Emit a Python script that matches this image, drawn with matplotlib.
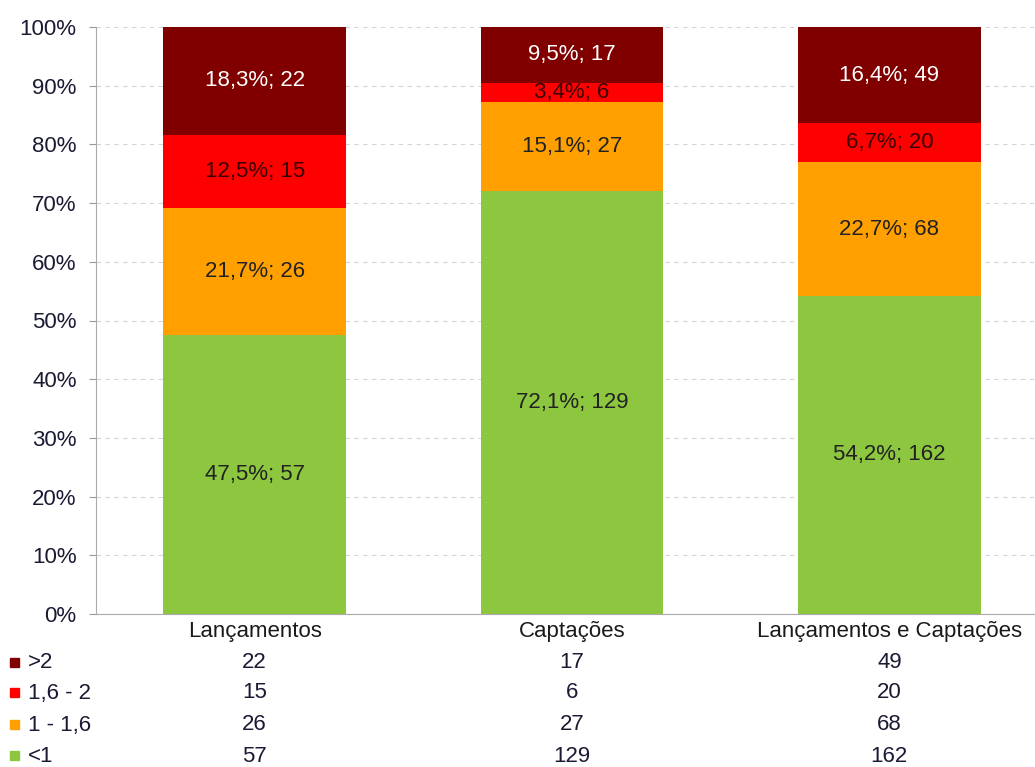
import matplotlib
matplotlib.use("Agg")
import matplotlib.pyplot as plt
import numpy as np
from matplotlib.patches import Rectangle

plt.rcParams["font.family"] = ["Liberation Sans", "DejaVu Sans"]

categories = ["Lançamentos", "Captações", "Lançamentos e Captações"]
classes = [">2", "1,6 - 2", "1 - 1,6", "<1"]
counts = {
    "<1": [57, 129, 162],
    "1 - 1,6": [26, 27, 68],
    "1,6 - 2": [15, 6, 20],
    ">2": [22, 17, 49],
}
colors = {"<1": "#8dc63f", "1 - 1,6": "#ffa000", "1,6 - 2": "#ff0000", ">2": "#800000"}
text_colors = {"<1": "#222222", "1 - 1,6": "#222222", "1,6 - 2": "#3a0000", ">2": "white"}
FS = 16

fig = plt.figure(figsize=(10.35, 7.67), dpi=100)
W, H = 1035, 767
ax = fig.add_axes([96 / W, (H - 614) / H, (1048 - 96) / W, (614 - 27) / H])

x = np.arange(len(categories))
totals = np.sum([counts[c] for c in classes], axis=0)
bottom = np.zeros(len(categories))
for cls in ["<1", "1 - 1,6", "1,6 - 2", ">2"]:
    vals = np.array(counts[cls])
    pct = vals / totals * 100
    ax.bar(x, pct, bottom=bottom, width=0.575, color=colors[cls], zorder=2)
    for xi, b, p, v in zip(x, bottom, pct, vals):
        label = f"{p:.1f}%; {v}".replace(".", ",")
        ax.text(xi, b + p / 2, label, ha="center", va="center", fontsize=FS,
                color=text_colors[cls], zorder=3)
    bottom += pct

ax.set_xlim(-0.5, 2.5)
ax.set_ylim(0, 100)
ax.set_yticks(np.arange(0, 101, 10))
ax.set_yticklabels([f"{t}%" for t in range(0, 101, 10)], fontsize=FS, color="#1a1a33")
ax.yaxis.grid(True, linestyle=(0, (4, 4)), color="#d4d4d4", linewidth=0.8, zorder=0)
ax.tick_params(axis="y", length=5, color="#999999", pad=9)
ax.set_xticks(x)
ax.set_xticklabels(categories, fontsize=FS, color="#1a1a1a")
ax.tick_params(axis="x", length=0, pad=5)
for side in ["top", "right"]:
    ax.spines[side].set_visible(False)
ax.spines["left"].set_color("#aaaaaa")
ax.spines["bottom"].set_color("#aaaaaa")

# data table under the bars
row_y = [663, 693, 725, 756]
trans = ax.get_xaxis_transform()
for cls, ypix in zip(classes, row_y):
    yax = (614 - ypix) / (614 - 27)
    for xi, v in zip(x, counts[cls]):
        ax.text(xi, yax, str(v), transform=trans, ha="center", va="center",
                fontsize=FS, color="#1a1a33", clip_on=False)
    yfig = (H - ypix) / H
    fig.patches.append(Rectangle((10 / W, yfig - 3.5 / H), 9 / W, 9 / H,
                                 transform=fig.transFigure, color=colors[cls]))
    fig.text(28 / W, yfig, cls, ha="left", va="center", fontsize=FS, color="#1a1a33")

fig.savefig("out.png", dpi=100)
